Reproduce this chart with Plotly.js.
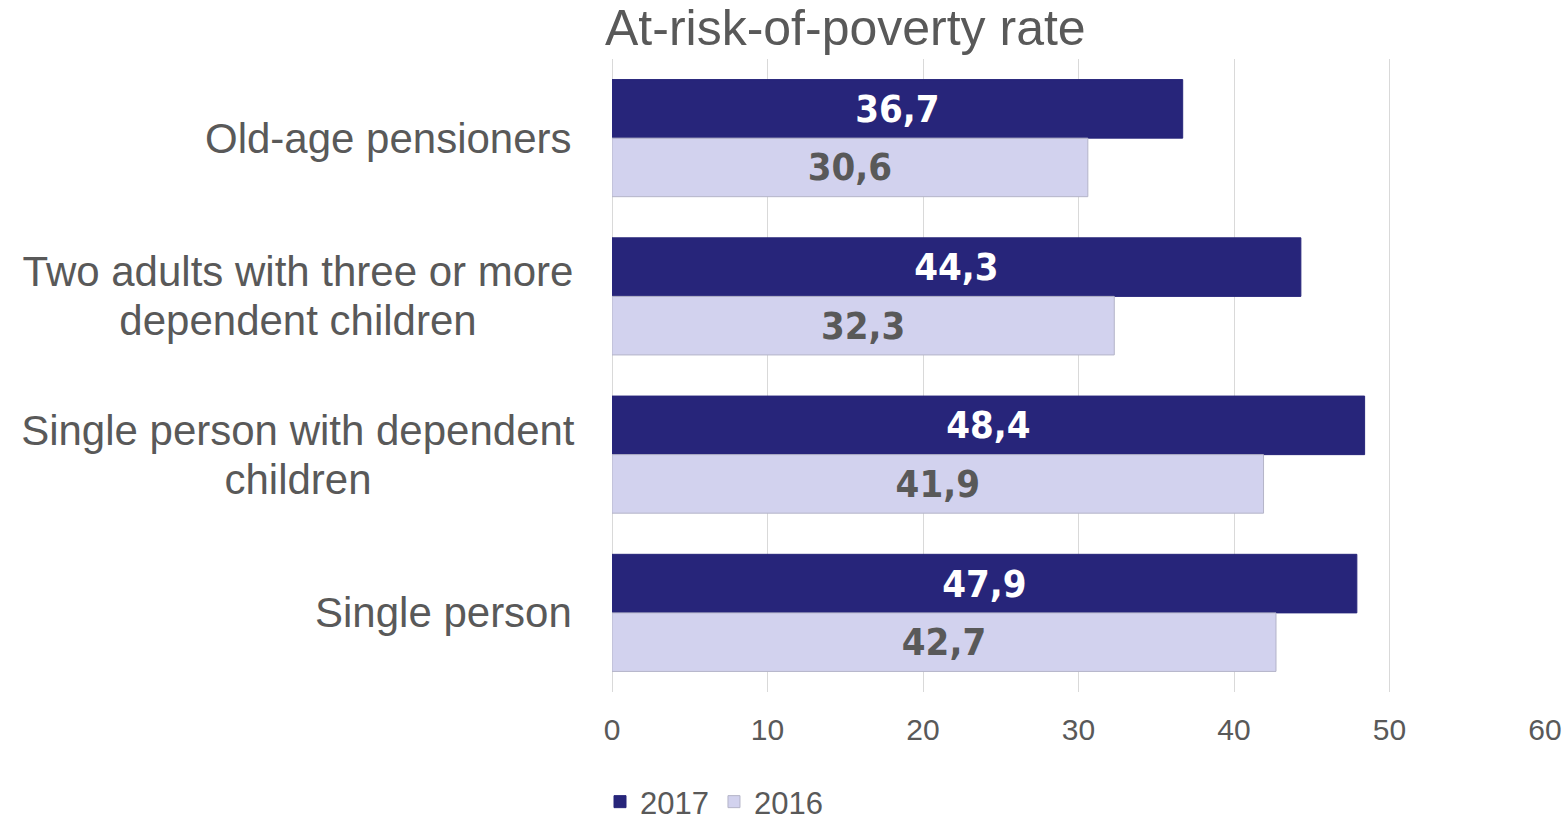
<!DOCTYPE html>
<html>
<head>
<meta charset="utf-8">
<script src="https://cdn.plot.ly/plotly-3.0.1.min.js"></script>
<style>
  html, body { margin: 0; padding: 0; background: #ffffff; }
  #chart { width: 1567px; height: 820px; }
</style>
</head>
<body>
<div id="chart"></div>
<script>
const categories = [
  "Old-age pensioners",
  "Two adults with three or more<br>dependent children",
  "Single person with dependent<br>children",
  "Single person"
];
const values2017 = [36.7, 44.3, 48.4, 47.9];
const values2016 = [30.6, 32.3, 41.9, 42.7];
const seriesNames = ["2017", "2016"];
const xTicks = [0, 10, 20, 30, 40, 50, 60];

const gray = "#595959";
const baseFont = "'Liberation Sans', Arial, sans-serif";
const narrowFont = "'DejaVu Sans Condensed', 'Liberation Sans Narrow', sans-serif";

const traces = [
  {
    type: "bar", orientation: "h", name: seriesNames[0],
    y: categories, x: values2017,
    marker: { color: "#27257a", line: { color: "#27257a", width: 1 } },
    texttemplate: "<b>%{x:.1f}</b>", textposition: "inside", insidetextanchor: "middle",
    textangle: 0, constraintext: "none",
    insidetextfont: { color: "#ffffff", size: 38, family: narrowFont },
    hoverinfo: "skip"
  },
  {
    type: "bar", orientation: "h", name: seriesNames[1],
    y: categories, x: values2016,
    marker: { color: "#d2d2ee", line: { color: "#b4b4c8", width: 1 } },
    texttemplate: "<b>%{x:.1f}</b>", textposition: "inside", insidetextanchor: "middle",
    textangle: 0, constraintext: "none",
    insidetextfont: { color: gray, size: 38, family: narrowFont },
    hoverinfo: "skip"
  }
];

// category labels: one annotation per line, centred as a block, tighter line spacing
const lineGap = 49;
const annotations = [];
categories.forEach(c => {
  const lines = c.split("<br>");
  const multi = lines.length > 1;
  lines.forEach((ln, i) => {
    annotations.push({
      xref: "paper", yref: "y", x: 0, y: c, xshift: multi ? -32 : -38,
      yshift: ((lines.length - 1) / 2 - i) * lineGap,
      xanchor: "right", yanchor: "middle", align: "center",
      width: multi ? 560 : null,
      text: ln, showarrow: false,
      font: { family: baseFont, size: 42, color: gray }
    });
  });
});

const layout = {
  width: 1567, height: 820,
  paper_bgcolor: "#ffffff", plot_bgcolor: "#ffffff",
  separators: ",.",
  margin: { l: 612, r: 22, t: 59, b: 128, autoexpand: false },
  barmode: "group", bargap: 0.26, bargroupgap: 0,
  title: {
    text: "At-risk-of-poverty rate",
    xref: "container", yref: "container",
    x: 605 / 1567, xanchor: "left",
    y: 1 - 27 / 820, yanchor: "middle",
    font: { family: baseFont, size: 50, color: gray }
  },
  xaxis: {
    range: [0, 60], tickvals: xTicks, ticktext: xTicks.map(String),
    showgrid: true, gridcolor: "#d9d9d9", gridwidth: 1,
    zeroline: true, zerolinecolor: "#d9d9d9", zerolinewidth: 1,
    showline: false, ticks: "", ticklabelstandoff: 17,
    tickfont: { family: baseFont, size: 30, color: gray },
    fixedrange: true
  },
  yaxis: {
    type: "category", autorange: "reversed",
    showticklabels: false, showgrid: false, zeroline: false, showline: false, ticks: "",
    fixedrange: true
  },
  showlegend: true,
  legend: {
    orientation: "h", xref: "container", yref: "container",
    x: 600 / 1567, xanchor: "left", y: 1 - 802 / 820, yanchor: "middle",
    font: { family: baseFont, size: 31, color: gray },
    itemwidth: 30, tracegroupgap: 0, bgcolor: "rgba(0,0,0,0)"
  },
  annotations: annotations
};

Plotly.newPlot("chart", traces, layout, { displayModeBar: false, staticPlot: true });
</script>
</body>
</html>
